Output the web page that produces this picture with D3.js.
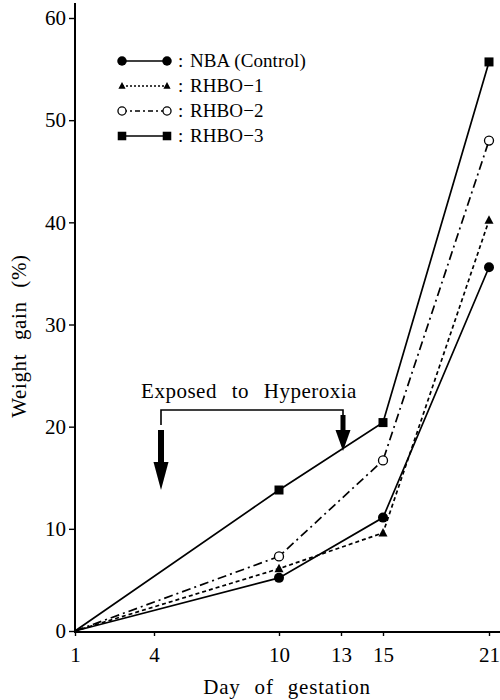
<!DOCTYPE html>
<html><head><meta charset="utf-8">
<script src="https://cdn.jsdelivr.net/npm/d3@7"></script>
<style>
html,body{margin:0;padding:0;background:#fff;}
svg{display:block;}
text{font-family:"Liberation Serif","DejaVu Serif",serif;fill:#000;}
</style></head>
<body>
<script>
// ---- data ----
const days = [1, 10, 15, 21];
const nba   = [0, 5.2, 11.1, 35.6];
const rhbo1 = [0, 6.1, 9.6, 40.2];
const rhbo2 = [0, 7.3, 16.7, 48.0];
const rhbo3 = [0, 13.8, 20.4, 55.7];
const seriesNames = ["NBA (Control)", "RHBO\u22121", "RHBO\u22122", "RHBO\u22123"];
const xTicks = [1, 4, 10, 13, 15, 21];
const yTicks = [0, 10, 20, 30, 40, 50, 60];
const exposure = [4, 13];
const annotationText = "Exposed to Hyperoxia";
const xTitle = "Day of gestation";
const yTitle = "Weight gain (%)";

const W = 500, H = 700;
const svg = d3.select("body").append("svg").attr("width", W).attr("height", H);

// hand-drawn original axis spacing: piecewise linear scale
const x = d3.scaleLinear().domain([1, 4, 10, 13, 15, 21]).range([75, 154, 279, 341, 383, 489]);
const y = d3.scaleLinear().domain([0, 60]).range([631, 18]);

const styles = [
  {marker: "circleFilled", dash: null},
  {marker: "triangle", dash: "4,3"},
  {marker: "circleOpen", dash: "9,4,2,4"},
  {marker: "square", dash: null}
];
const allSeries = [nba, rhbo1, rhbo2, rhbo3];

// ---- axes ----
const yAxis = d3.axisLeft(y).tickValues(yTicks).tickSize(6).tickPadding(3);
const gy = svg.append("g").attr("transform", `translate(${x(1)},0)`).call(yAxis);
gy.select(".domain").remove();
gy.selectAll("line").attr("stroke", "#000").attr("stroke-width", 1.4);
gy.selectAll("text").style("font-size", "21px").style("font-family", "Liberation Serif");
svg.append("line").attr("x1", x(1)).attr("x2", x(1)).attr("y1", y(0) + 1).attr("y2", 3)
  .attr("stroke", "#000").attr("stroke-width", 2);

const xAxis = d3.axisBottom(x).tickValues(xTicks).tickSize(4).tickPadding(11).tickFormat(d3.format("d"));
const gx = svg.append("g").attr("transform", `translate(0,${y(0) + 1})`).call(xAxis);
gx.select(".domain").remove();
gx.selectAll("line").attr("stroke", "#000").attr("stroke-width", 1.4);
gx.selectAll("text").style("font-size", "21px").style("font-family", "Liberation Serif");
svg.append("line").attr("x1", x(1) - 1).attr("x2", W).attr("y1", y(0) + 1).attr("y2", y(0) + 1)
  .attr("stroke", "#000").attr("stroke-width", 2);

svg.append("text").attr("x", 287).attr("y", 694).attr("text-anchor", "middle")
  .style("font-size", "21px").style("letter-spacing", "0.8px").style("word-spacing", "8px").text(xTitle);
svg.append("text").attr("transform", "translate(26,336) rotate(-90)").attr("text-anchor", "middle")
  .style("font-size", "21px").style("letter-spacing", "0.6px").style("word-spacing", "8px").text(yTitle);

// ---- lines ----
const line = d3.line().x((d, i) => x(days[i])).y(d => y(d));
allSeries.forEach((s, k) => {
  svg.append("path").datum(s).attr("d", line).attr("fill", "none").attr("stroke", "#000")
    .attr("stroke-width", 1.7).attr("stroke-dasharray", styles[k].dash);
});

function drawMarker(g, type, cx, cy, scale) {
  const s = scale || 1;
  if (type === "circleFilled") g.append("circle").attr("cx", cx).attr("cy", cy).attr("r", 5 * s).attr("fill", "#000");
  else if (type === "circleOpen") g.append("circle").attr("cx", cx).attr("cy", cy).attr("r", 4.5 * s)
    .attr("fill", "#fff").attr("stroke", "#000").attr("stroke-width", 1.3);
  else if (type === "square") g.append("rect").attr("x", cx - 4.5 * s).attr("y", cy - 4.5 * s)
    .attr("width", 9 * s).attr("height", 9 * s).attr("fill", "#000");
  else if (type === "triangle") g.append("path")
    .attr("d", `M${cx},${cy - 5 * s}L${cx + 4.5 * s},${cy + 3.5 * s}L${cx - 4.5 * s},${cy + 3.5 * s}Z`).attr("fill", "#000");
}

allSeries.forEach((s, k) => {
  const g = svg.append("g");
  s.forEach((v, i) => { if (i > 0) drawMarker(g, styles[k].marker, x(days[i]), y(v)); });
});

// ---- legend ----
const legendRowY = [61, 86, 111, 136];
seriesNames.forEach((name, k) => {
  const g = svg.append("g");
  const cy = legendRowY[k];
  g.append("line").attr("x1", 122).attr("x2", 167).attr("y1", cy).attr("y2", cy)
    .attr("stroke", "#000").attr("stroke-width", 1.4)
    .attr("stroke-dasharray", k === 1 ? "2,2" : (k === 2 ? "5,3,2,3" : null));
  const ms = k === 1 ? 0.8 : (k === 2 ? 0.9 : 0.95);
  drawMarker(g, styles[k].marker, 122, cy, ms);
  drawMarker(g, styles[k].marker, 167, cy, ms);
  g.append("text").attr("x", 178).attr("y", cy + 6).style("font-size", "19px").text(":");
  g.append("text").attr("x", 190).attr("y", cy + 6).style("font-size", "19px").style("letter-spacing", "0.1px").text(name);
});

// ---- exposure annotation ----
const ax0 = x(exposure[0]) + 7, ax1 = x(exposure[1]) + 2;
const bracketY = 410;
svg.append("text").attr("x", (ax0 + ax1) / 2 - 3).attr("y", 398).attr("text-anchor", "middle")
  .style("font-size", "21px").style("word-spacing", "9px").style("letter-spacing", "0.5px").text(annotationText);
svg.append("path").attr("d", `M${ax0},${bracketY + 15}L${ax0},${bracketY}L${ax1},${bracketY}L${ax1},${bracketY + 6}`)
  .attr("fill", "none").attr("stroke", "#000").attr("stroke-width", 1.6);
// left arrow
svg.append("rect").attr("x", ax0 - 3).attr("y", 430).attr("width", 6).attr("height", 34).attr("fill", "#000");
svg.append("path").attr("d", `M${ax0 - 7.5},462L${ax0 + 7.5},462L${ax0},490Z`).attr("fill", "#000");
// right arrow
svg.append("rect").attr("x", ax1 - 2.5).attr("y", 415).attr("width", 5).attr("height", 16).attr("fill", "#000");
svg.append("path").attr("d", `M${ax1 - 7.5},430L${ax1 + 7.5},430L${ax1},451Z`).attr("fill", "#000");
</script>
</body></html>
